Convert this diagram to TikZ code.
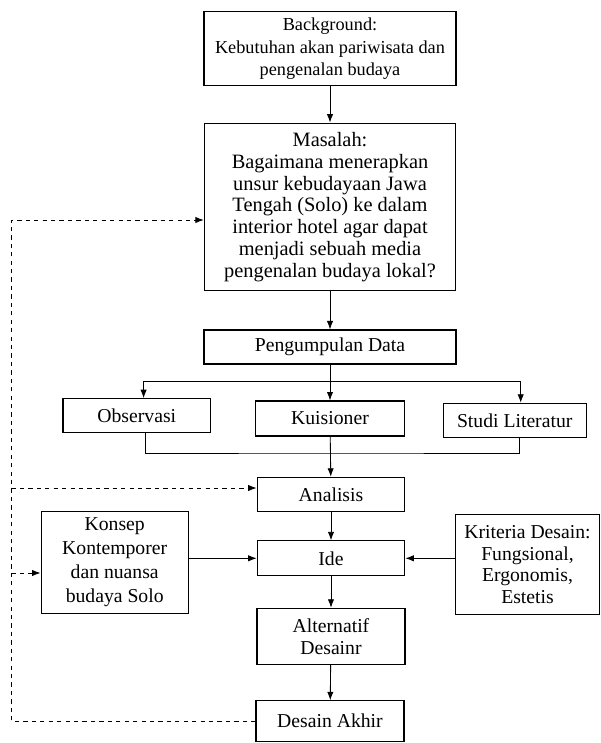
\documentclass[tikz,border=0pt]{standalone}
\usepackage{fontspec}
\setmainfont{Liberation Serif}
\usepackage{xcolor}
\usepackage{tikz}
\usetikzlibrary{arrows.meta}

\begin{document}
\begin{tikzpicture}[x=0.025cm,y=-0.025cm,>={Latex[length=6pt,width=4.5pt]},
  box/.style={draw,thick,align=center,inner sep=2pt,font=\fontsize{14}{15.5}\selectfont},
  line/.style={semithick,->},
  back/.style={semithick,dashed,->}]
\useasboundingbox (0,0) rectangle (600,743);

\node (bg) at (330,48.7)[box,minimum width=6.3cm,minimum height=1.85cm,font=\fontsize{13}{16}\selectfont]{Background:\\Kebutuhan akan pariwisata dan\\pengenalan budaya};

\node (masalah) at (330,207)[box,minimum width=6.28cm,minimum height=4.19cm,font=\fontsize{14.5}{15.5}\selectfont]{Masalah:\\Bagaimana menerapkan\\unsur kebudayaan Jawa\\Tengah (Solo) ke dalam\\interior hotel agar dapat\\menjadi sebuah media\\pengenalan budaya lokal?};

\node (pd) at (330,347)[box,minimum width=6.3cm,minimum height=0.85cm]{Pengumpulan Data};

\node (obs) at (136.8,415.7)[box,minimum width=3.69cm,minimum height=0.85cm]{Observasi};
\node (kuis) at (330,418.5)[box,minimum width=3.71cm,minimum height=0.875cm]{Kuisioner};
\node (studi) at (514.7,420.5)[box,minimum width=3.58cm,minimum height=0.86cm]{Studi Literatur};

\node (analisis) at (331,494.5)[box,minimum width=3.69cm,minimum height=0.86cm]{Analisis};
\node (ide) at (331,558.3)[box,minimum width=3.69cm,minimum height=0.87cm]{Ide};

\node (konsep) at (114.7,562.5)[box,minimum width=3.68cm,minimum height=2.54cm,font=\fontsize{14}{17}\selectfont]{Konsep\\Kontemporer\\dan nuansa\\budaya Solo};
\node (kriteria) at (527.5,564.5)[box,minimum width=3.58cm,minimum height=2.52cm]{Kriteria Desain:\\Fungsional,\\Ergonomis,\\Estetis};

\node (alt) at (331,636.3)[box,minimum width=3.7cm,minimum height=1.4cm]{Alternatif\\Desainr};
\node (akhir) at (330,721.2)[box,minimum width=3.7cm,minimum height=1.02cm]{Desain Akhir};

\coordinate (br) at (330,381);
\coordinate (mrg) at (330,453);
\coordinate (fb) at (11.5,220);

\draw[line] (bg) -- (masalah);
\draw[line] (masalah) -- (pd);

\draw[semithick] (pd) -- (br);
\draw[line] (br) -| ([xshift=0.17cm]obs.north);
\draw[line] (br) -| ([xshift=0.15cm]studi.north);
\draw[line] (br) -- (kuis);

\draw[semithick] ([xshift=0.22cm]obs.south) |- (mrg) -| ([xshift=0.13cm]studi.south);
\draw[line] (kuis) -- (analisis);
\draw[line] (analisis) -- (ide);
\draw[line] (konsep.east |- ide) -- (ide);
\draw[line] (kriteria.west |- ide) -- (ide);
\draw[line] (ide) -- (alt);
\draw[line] (alt) -- (akhir);

\draw[back] (akhir.west) -| (fb) -- (fb -| masalah.west);
\draw[back] (11.5,488) -- (analisis.west |- 0,488);
\draw[back] (11.5,573) -- (konsep.west |- 0,573);

\end{tikzpicture}
\end{document}
